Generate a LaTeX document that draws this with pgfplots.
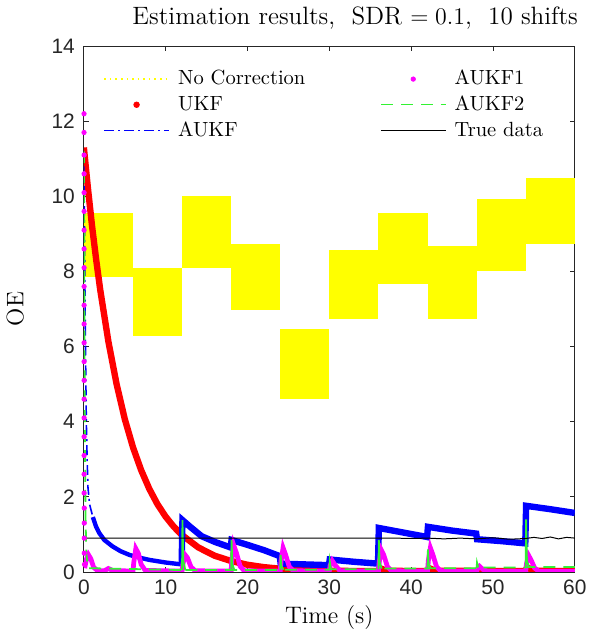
\documentclass[border=0pt]{standalone}
\usepackage{pgfplots}
\pgfplotsset{compat=1.18}
\usepackage{fontspec}
\newfontfamily\arialf{Liberation Sans}
\definecolor{mgray}{gray}{0.15}
\definecolor{myyellow}{rgb}{1,1,0}
\definecolor{mygreen}{rgb}{0.2,0.95,0.2}
\definecolor{mymag}{rgb}{1,0,1}
\begin{document}
\begin{tikzpicture}
\begin{axis}[
  width=246.5pt, height=264pt, scale only axis,
  xmin=0, xmax=60, ymin=0, ymax=14,
  xtick={0,10,20,30,40,50,60},
  ytick={0,2,4,6,8,10,12,14},
  tick align=inside,
  major tick length=2.5pt,
  axis line style={mgray, line width=0.4pt},
  tick style={mgray, line width=0.4pt},
  /pgf/number format/assume math mode=true,
  ticklabel style={font=\arialf\fontsize{10.5}{12}\selectfont, text=mgray},
  yticklabel style={xshift=-1pt},
  xticklabel style={yshift=-0.5pt},
  title={Estimation results,\ \ SDR $=0.1$,\ \ 10 shifts},
  title style={font=\fontsize{12.6}{14}\selectfont, yshift=-1pt, xshift=13pt},
  xlabel={Time (s)},
  ylabel={OE},
  label style={font=\fontsize{12}{14}\selectfont},
  xlabel style={yshift=1.5pt},
  ylabel style={yshift=7pt},
  legend columns=2,
  legend cell align=left,
  legend style={draw=none, fill=none, at={(rel axis cs:0.027,0.97)}, anchor=north west,
    font=\fontsize{10.3}{12}\selectfont, column sep=2pt, row sep=0pt},
  legend image code/.code={\draw[#1] (0cm,0cm) -- (1.15cm,0cm);},
]
% legend entries (column-wise order as in reference)
\addlegendimage{myyellow, dotted, line width=0.8pt}
\addlegendentry{\makebox[97.5pt][l]{No Correction}}
\addlegendimage{legend image code/.code={\fill[mymag] (0.57cm,0cm) circle (1.1pt);}}
\addlegendentry{AUKF1}
\addlegendimage{legend image code/.code={\fill[red] (0.57cm,0cm) circle (1.4pt);}}
\addlegendentry{UKF}
\addlegendimage{mygreen, dash pattern=on 6pt off 4pt, line width=0.6pt}
\addlegendentry{AUKF2}
\addlegendimage{blue, dash pattern=on 5pt off 2pt on 1pt off 2pt, line width=0.6pt}
\addlegendentry{AUKF}
\addlegendimage{black, line width=0.5pt}
\addlegendentry{True data}

% No Correction bands
\addplot[fill=myyellow, draw=none, forget plot] coordinates {(0,7.85) (0,9.55) (6,9.55) (6,7.85)} -- cycle;
\addplot[fill=myyellow, draw=none, forget plot] coordinates {(6,6.29) (6,8.09) (12,8.09) (12,6.29)} -- cycle;
\addplot[fill=myyellow, draw=none, forget plot] coordinates {(12,8.09) (12,10.0) (18,10.0) (18,8.09)} -- cycle;
\addplot[fill=myyellow, draw=none, forget plot] coordinates {(18,6.98) (18,8.73) (24,8.73) (24,6.98)} -- cycle;
\addplot[fill=myyellow, draw=none, forget plot] coordinates {(24,4.61) (24,6.47) (30,6.47) (30,4.61)} -- cycle;
\addplot[fill=myyellow, draw=none, forget plot] coordinates {(30,6.74) (30,8.57) (36,8.57) (36,6.74)} -- cycle;
\addplot[fill=myyellow, draw=none, forget plot] coordinates {(36,7.66) (36,9.55) (42,9.55) (42,7.66)} -- cycle;
\addplot[fill=myyellow, draw=none, forget plot] coordinates {(42,6.74) (42,8.67) (48,8.67) (48,6.74)} -- cycle;
\addplot[fill=myyellow, draw=none, forget plot] coordinates {(48,8.01) (48,9.92) (54,9.92) (54,8.01)} -- cycle;
\addplot[fill=myyellow, draw=none, forget plot] coordinates {(54,8.73) (54,10.48) (60,10.48) (60,8.73)} -- cycle;

% UKF
\addplot[red, line width=3.2pt, forget plot] coordinates {
(0,11.30) (0.5,10.21) (1,9.21) (1.5,8.32) (2,7.51) (3,6.13) (4,5.00) (5,4.07)
(6,3.32) (7,2.71) (8,2.21) (9,1.80) (10,1.47) (11,1.20) (12,0.98) (14,0.65)
(16,0.43) (18,0.29) (20,0.19) (22,0.127) (24,0.085) (27,0.046) (30,0.03)
(35.9,0.02) (36.2,0.1) (37,0.03) (41.9,0.02) (42.2,0.1) (43,0.03)
(53.9,0.02) (54.2,0.12) (55,0.03) (60,0.02)};

% AUKF
\addplot[blue, line width=0.8pt, dash pattern=on 5pt off 2pt on 1pt off 2pt, forget plot] coordinates {
(0,10.8) (0.08,9) (0.15,7) (0.22,5.5) (0.3,4) (0.4,3) (0.5,2.25) (0.7,1.8) (1.1,1.46)};
\addplot[blue, line width=2.2pt, forget plot] coordinates {
(1.1,1.46) (1.5,1.2) (1.9,1.03) (2.5,0.85) (3.5,0.68) (4.5,0.55) (5.6,0.45) (7,0.37)
(8,0.32) (10,0.25) (11.95,0.2)};
\addplot[blue, line width=3.2pt, forget plot] coordinates {
(11.95,0.2) (12.05,1.38) (13,1.2) (14.4,0.95) (16,0.8) (17.95,0.65)
(18.05,0.85) (20,0.72) (22,0.58) (23.95,0.42) (24.05,0.22) (27,0.2) (29.95,0.18)
(30.05,0.33) (33,0.27) (35.95,0.22) (36.05,1.17) (39,1.05) (41.95,0.93)
(42.05,1.2) (45,1.1) (47.95,1.02) (48.05,0.87) (51,0.82) (53.95,0.76)
(54.05,1.76) (57,1.67) (60,1.57)};

% AUKF1
\addplot[mymag, only marks, mark=*, mark size=1.1pt, forget plot] coordinates {
(0.02,12.2) (0.02,11.7) (0.03,11.1) (0.03,10.6) (0.03,10.1) (0.03,9.6) (0.03,9.1)
(0.03,8.6) (0.03,8.1) (0.03,7.6) (0.03,7.1) (0.03,6.6) (0.03,6.1) (0.03,5.6)
(0.03,5.1) (0.03,4.6) (0.03,4.1) (0.03,3.6) (0.03,3.1) (0.03,2.6) (0.03,2.1)
(0.05,1.7) (0.05,1.3) (0.05,0.9) (0.05,0.5) (0.08,0.2)};
\addplot[mymag, line width=2.4pt, forget plot] coordinates {
(0.1,0.1) (0.3,0.33) (0.55,0.46) (0.85,0.35) (1.2,0.12) (1.7,0.03) (2.5,0.03) (3,0.09)
(3.5,0.04) (6,0.02) (6.1,0.25) (6.35,0.62) (6.65,0.5) (7,0.2) (7.5,0.04)
(12,0.02) (12.1,0.2) (12.35,0.46) (12.65,0.38) (13.1,0.13) (13.6,0.03)
(18,0.02) (18.1,0.35) (18.3,0.72) (18.65,0.5) (19.1,0.15) (19.6,0.03)
(24,0.02) (24.1,0.3) (24.35,0.64) (24.65,0.46) (25.1,0.14) (25.6,0.03)
(30,0.02) (30.1,0.17) (30.35,0.3) (30.75,0.17) (31.3,0.03)
(36,0.02) (36.1,0.27) (36.35,0.58) (36.65,0.45) (37.1,0.14) (37.6,0.03)
(42,0.02) (42.1,0.3) (42.35,0.64) (42.65,0.46) (43.1,0.14) (43.6,0.03)
(48,0.02) (48.15,0.1) (48.35,0.15) (48.75,0.07) (49.3,0.02)
(54,0.02) (54.1,0.22) (54.35,0.44) (54.65,0.32) (55.1,0.1) (55.6,0.02) (60,0.02)};

% AUKF2
\addplot[mygreen, line width=0.9pt, dash pattern=on 6pt off 4pt, forget plot] coordinates {
(0,11.2) (0.05,8) (0.1,5) (0.15,3) (0.2,1.5) (0.3,0.5) (0.5,0.1) (12,0.05)};
\addplot[mygreen, line width=0.9pt, forget plot] coordinates {
(12,0.05) (12.05,1.38) (12.15,0.3) (12.4,0.05)};
\addplot[mygreen, line width=0.9pt, forget plot] coordinates {
(18,0.05) (18.05,0.85) (18.15,0.2) (18.4,0.05)};
\addplot[mygreen, line width=0.9pt, forget plot] coordinates {
(24,0.05) (24.05,0.45) (24.15,0.15) (24.4,0.06)};
\addplot[mygreen, line width=0.9pt, forget plot] coordinates {
(30,0.06) (30.05,0.28) (30.2,0.07)};
\addplot[mygreen, line width=0.9pt, forget plot] coordinates {
(36,0.07) (36.05,0.85) (36.15,0.25) (36.4,0.09)};
\addplot[mygreen, line width=0.9pt, forget plot] coordinates {
(42,0.09) (42.05,0.6) (42.15,0.2) (42.4,0.1)};
\addplot[mygreen, line width=0.9pt, forget plot] coordinates {
(48,0.1) (48.05,0.25) (48.2,0.12)};
\addplot[mygreen, line width=0.9pt, forget plot] coordinates {
(54,0.12) (54.05,1.4) (54.15,0.3) (54.4,0.13)};
\addplot[mygreen, line width=0.9pt, dash pattern=on 6pt off 4pt, forget plot] coordinates {
(12.4,0.05) (18,0.05) (18.4,0.05) (24,0.05) (24.4,0.06) (30,0.06) (30.2,0.07) (36,0.07)
(36.4,0.09) (42,0.09) (42.4,0.1) (48,0.1) (48.2,0.12) (54,0.12) (54.4,0.13) (60,0.13)};

% True data
\addplot[black, line width=0.5pt, forget plot] coordinates {
(0,0.9) (10,0.9) (20,0.9) (30,0.9) (38,0.9) (40,0.89) (42,0.9) (44,0.88) (46,0.9)
(48,0.88) (50,0.91) (52,0.87) (54,0.89) (55,0.92) (56,0.89) (57,0.93) (58,0.88)
(59,0.92) (60,0.9)};
\end{axis}
\end{tikzpicture}
\end{document}
